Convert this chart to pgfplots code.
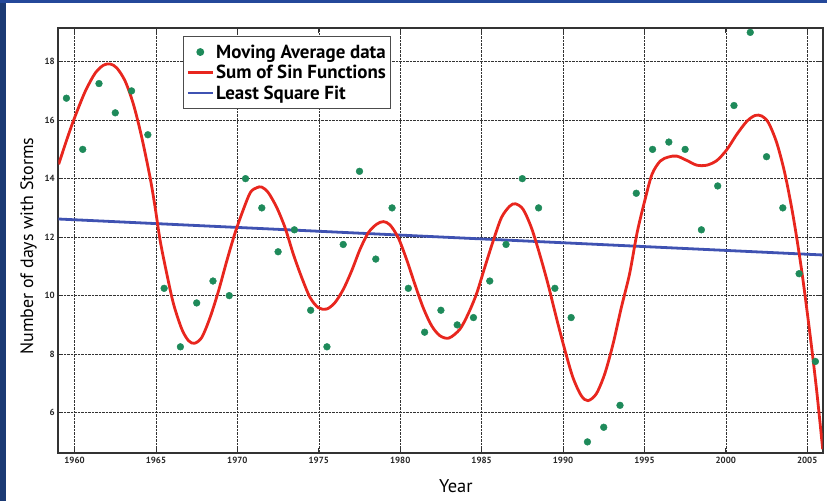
\documentclass[border=0pt]{standalone}
\usepackage{fontspec}
\setmainfont{PT Sans}
\usepackage{pgfplots}
\pgfplotsset{compat=1.18}
\definecolor{frameleft}{HTML}{1B3A74}
\definecolor{frametop}{HTML}{24489A}
\definecolor{dotgreen}{HTML}{1E8A5A}
\definecolor{curvered}{HTML}{E8261E}
\definecolor{fitblue}{HTML}{3F52B2}
\pgfplotsset{
  linelegend/.style={legend image code/.code={\draw[##1] (0bp,0bp) -- (25bp,0bp);}},
  dotlegend/.style={legend image code/.code={\draw[mark repeat=2,mark phase=2,##1] plot coordinates {(0bp,0bp) (12.5bp,0bp) (25bp,0bp)};}},
}
\begin{document}
\begin{tikzpicture}
\useasboundingbox (-58.3bp,-48bp) rectangle (768.7bp,453bp);
\fill[frameleft] (-58.3bp,-48bp) rectangle (-52.3bp,453bp);
\fill[frametop] (-58.3bp,449.6bp) rectangle (768.7bp,453bp);
\begin{axis}[
  at={(0bp,0bp)}, anchor=south west,
  width=764.4bp, height=425bp, scale only axis,
  xmin=1959, xmax=2005.95, ymin=4.62, ymax=19.15,
  xtick={1960,1965,...,2005}, ytick={6,8,...,18},
  /pgf/number format/1000 sep={},
  /pgf/number format/assume math mode=true,
  grid=major,
  major grid style={black!80, densely dotted, line width=0.6bp},
  axis line style={black!80, line width=1.6bp},
  tick align=inside, major tick length=5bp,
  tick style={black!80, line width=0.8bp},
  ticklabel style={font=\fontsize{9}{10}\selectfont\bfseries, text=black!85},
  xticklabel style={yshift=-1bp},
  xlabel={Year},
  ylabel={Number of days with Storms},
  xlabel style={at={(axis description cs:0.52,-0.078)}, anchor=center, font=\fontsize{18.5}{20}\selectfont},
  ylabel style={at={(axis description cs:-0.039,0.487)}, anchor=center, font=\fontsize{18}{20}\selectfont},
  legend style={at={(0.163,0.981)}, anchor=north west, draw=black!70, line width=1bp,
    font=\fontsize{19}{21}\selectfont\bfseries, inner xsep=3bp, inner ysep=6bp,
    row sep=1.5bp, cells={anchor=west}},
]
\addlegendimage{only marks, mark=*, mark size=3.4bp, dotgreen, dotlegend}
\addlegendentry{Moving Average data}
\addlegendimage{curvered, line width=2.8bp, linelegend}
\addlegendentry{Sum of Sin Functions}
\addlegendimage{fitblue, line width=2.8bp, linelegend}
\addlegendentry{Least Square Fit}

\addplot[fitblue, line width=2.8bp, forget plot] coordinates {(1959,12.62) (2005.95,11.39)};

\addplot[curvered, line width=2.8bp, smooth, forget plot] coordinates {
(1959.02,14.49) (1959.63,15.51) (1960.04,16.14) (1960.66,16.99) (1961.27,17.61)
(1961.78,17.88) (1962.19,17.92) (1962.6,17.78) (1963.11,17.33) (1963.62,16.53)
(1964.13,15.40) (1964.64,14.03) (1964.95,13.01) (1965.26,11.87) (1965.67,10.73)
(1966.08,9.71) (1966.59,8.85) (1967.0,8.46) (1967.36,8.37) (1967.81,8.57)
(1968.32,9.25) (1968.84,10.16) (1969.35,11.19) (1969.86,12.15) (1970.37,12.95)
(1970.8,13.53) (1971.19,13.69) (1971.5,13.71) (1971.9,13.52) (1972.42,13.01)
(1972.93,12.32) (1973.44,11.41) (1973.95,10.62) (1974.46,9.94) (1974.97,9.59)
(1975.48,9.54) (1975.99,9.76) (1976.51,10.22) (1977.02,10.85) (1977.53,11.58)
(1978.04,12.15) (1978.55,12.44) (1978.96,12.53) (1979.37,12.42) (1979.88,11.98)
(1980.39,11.24) (1980.9,10.39) (1981.41,9.59) (1981.93,8.97) (1982.44,8.63)
(1983.0,8.55) (1983.66,8.85) (1984.17,9.37) (1984.68,10.05) (1985.19,10.96)
(1985.71,11.87) (1986.22,12.67) (1986.73,13.06) (1987.08,13.14) (1987.55,12.95)
(1988.06,12.32) (1988.57,11.41) (1989.08,10.39) (1989.59,9.25) (1990.1,8.17)
(1990.61,7.20) (1991.12,6.58) (1991.53,6.41) (1992.04,6.64) (1992.56,7.32)
(1993.07,8.34) (1993.58,9.59) (1994.09,10.75) (1994.55,12.15) (1995.0,13.2)
(1995.46,14.14) (1995.97,14.6) (1996.48,14.74) (1996.99,14.77) (1997.61,14.62)
(1998.22,14.46) (1998.83,14.46) (1999.45,14.62) (2000.06,14.99) (2000.67,15.51)
(2001.29,15.96) (2001.8,16.16) (2002.21,16.14) (2002.62,15.91) (2003.13,15.22)
(2003.64,14.14) (2004.15,12.67) (2004.66,10.85) (2005.17,8.68) (2005.58,6.75)
(2005.95,4.75)
};

\addplot[only marks, mark=*, mark size=3.4bp, dotgreen, forget plot] coordinates {
(1959.5,16.75) (1960.5,15.0) (1961.5,17.25) (1962.5,16.25) (1963.5,17.0)
(1964.5,15.5) (1965.5,10.25) (1966.5,8.25) (1967.5,9.75) (1968.5,10.5)
(1969.5,10.0) (1970.5,14.0) (1971.5,13.0) (1972.5,11.5) (1973.5,12.25)
(1974.5,9.5) (1975.5,8.25) (1976.5,11.75) (1977.5,14.25) (1978.5,11.25)
(1979.5,13.0) (1980.5,10.25) (1981.5,8.75) (1982.5,9.5) (1983.5,9.0)
(1984.5,9.25) (1985.5,10.5) (1986.5,11.75) (1987.5,14.0) (1988.5,13.0)
(1989.5,10.25) (1990.5,9.25) (1991.5,5.0) (1992.5,5.5) (1993.5,6.25)
(1994.5,13.5) (1995.5,15.0) (1996.5,15.25) (1997.5,15.0) (1998.5,12.25)
(1999.5,13.75) (2000.5,16.5) (2001.5,19.0) (2002.5,14.75) (2003.5,13.0)
(2004.5,10.75) (2005.5,7.75)
};
\end{axis}
\end{tikzpicture}
\end{document}
